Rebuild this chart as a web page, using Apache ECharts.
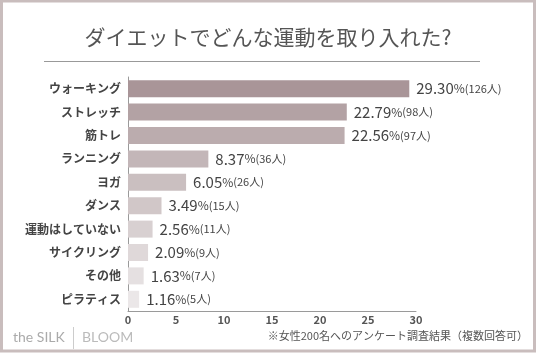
<!DOCTYPE html>
<html>
<head>
<meta charset="utf-8">
<script src="https://cdn.jsdelivr.net/npm/echarts@6/dist/echarts.min.js"></script>
<style>
html,body{margin:0;padding:0;background:#fff;}
#chart{width:536px;height:353px;}
</style>
</head>
<body>
<div id="chart"></div>
<script>
"use strict";
// 項目(上から)
let categories = ["ウォーキング","ストレッチ","筋トレ","ランニング","ヨガ","ダンス","運動はしていない","サイクリング","その他","ピラティス"];
let percents = [29.30,22.79,22.56,8.37,6.05,3.49,2.56,2.09,1.63,1.16];
let people = [126,98,97,36,26,15,11,9,7,5];
let barColors = ["#a99598","#b3a2a4","#bbacae","#c3b6b8","#cabfc0","#d1c7c8","#d8d0d1","#dfd8d9","#e5e0e1","#ebe7e8"];
let xTicks = [0,5,10,15,20,25,30];

let font = "'Noto Sans CJK JP', 'Noto Sans', sans-serif";
let chart = echarts.init(document.getElementById("chart"));

let option = {
    backgroundColor:"#fff",
    animation:false,
    grid:{left:128,top:77,width:288,height:234},
    xAxis:{
        type:"value",
        min:xTicks[0],
        max:xTicks[xTicks.length-1],
        interval:5,
        axisLine:{show:true,lineStyle:{color:"#9a9a9a",width:1}},
        axisTick:{show:false},
        splitLine:{show:false},
        axisLabel:{color:"#555",fontSize:11,fontWeight:"bold",fontFamily:font,margin:3}
    },
    yAxis:{
        type:"category",
        inverse:true,
        data:categories,
        axisLine:{show:true,lineStyle:{color:"#9a9a9a",width:1}},
        axisTick:{show:false},
        axisLabel:{color:"#444",fontSize:12,fontWeight:"bold",fontFamily:font,margin:7}
    },
    series:[{
        type:"bar",
        barWidth:17,
        data:percents.map((v,i)=>({value:v,itemStyle:{color:barColors[i]}})),
        label:{
            show:true,
            position:"right",
            distance:7,
            formatter:p=>"{a|"+p.value.toFixed(2)+"}{b|%}{c|("+people[p.dataIndex]+"人)}",
            rich:{
                a:{color:"#444",fontSize:15,fontFamily:font},
                b:{color:"#444",fontSize:12,fontFamily:font},
                c:{color:"#444",fontSize:11,fontFamily:font}
            }
        }
    }],
    graphic:[
        // 外枠
        {type:"rect",shape:{x:1.5,y:1,width:533,height:350},style:{fill:"none",stroke:"#c9bdbd",lineWidth:3}},
        {type:"text",left:"center",top:27,style:{text:"ダイエットでどんな運動を取り入れた?",fill:"#555",font:"21px "+font}},
        {type:"line",shape:{x1:44,y1:61.5,x2:480,y2:61.5},style:{stroke:"#999",lineWidth:1}},
        {type:"text",left:13,top:330,style:{text:"the SILK",fill:"#aaa",font:"14px 'Lato', sans-serif"}},
        {type:"line",shape:{x1:73.5,y1:327,x2:73.5,y2:349},style:{stroke:"#ccc",lineWidth:1}},
        {type:"text",left:82,top:330,style:{text:"BLOOM",fill:"#bbb",font:"14px 'Lato', sans-serif"}},
        {type:"text",right:8,top:330,style:{text:"※女性200名へのアンケート調査結果（複数回答可）",fill:"#555",font:"11px "+font}}
    ]
};
chart.setOption(option);
</script>
</body>
</html>
